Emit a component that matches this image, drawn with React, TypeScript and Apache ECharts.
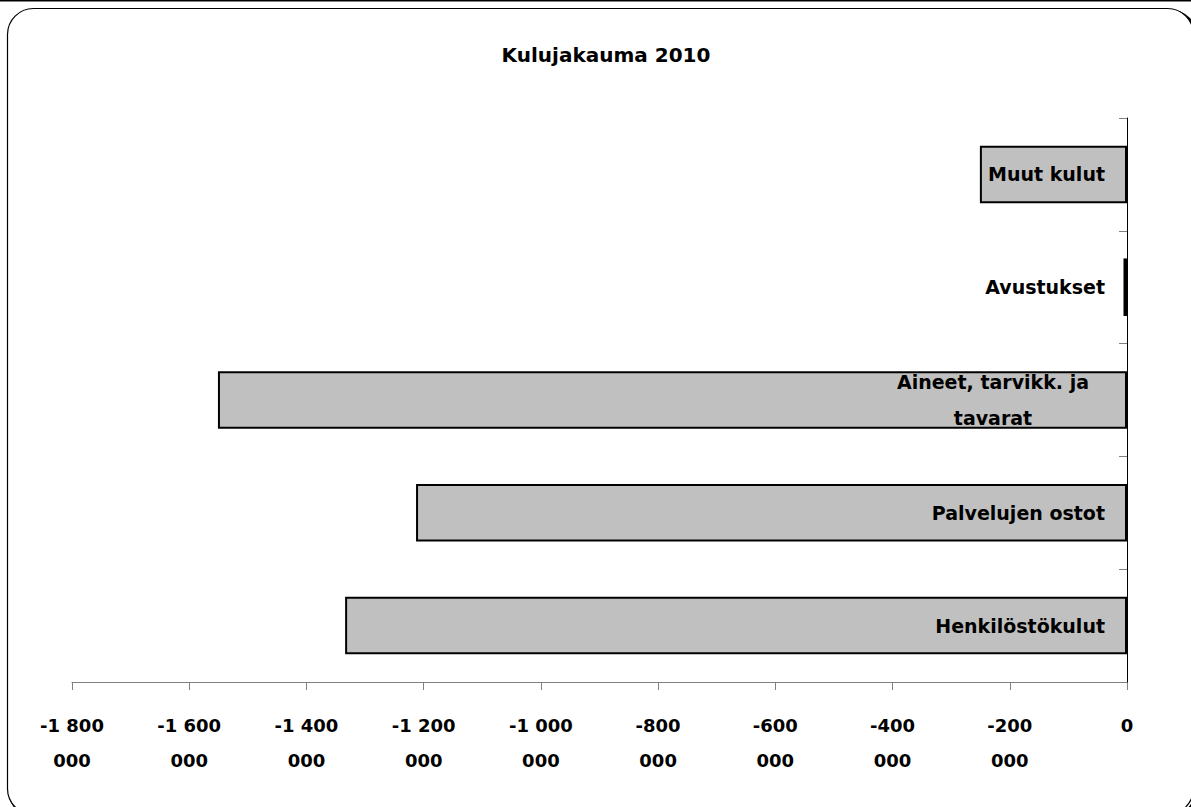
import React, { useEffect, useRef } from "react";
import * as echarts from "echarts";

const titleText = "Kulujakauma 2010";
const categories = [
  "Henkilöstökulut",
  "Palvelujen ostot",
  "Aineet, tarvikk. ja tavarat",
  "Avustukset",
  "Muut kulut",
];
const values = [-1334000, -1213000, -1551000, -6000, -251000];
const xMin = -1800000;
const xMax = 0;
const xInterval = 200000;

const FONT = "'Comic Sans MS', 'DejaVu Sans', sans-serif";

function fmtValue(v: number): string {
  if (v === 0) return "0";
  const neg = v < 0;
  const s = Math.abs(v).toString().replace(/\B(?=(\d{3})+(?!\d))/g, " ");
  const full = (neg ? "-" : "") + s;
  const i = full.lastIndexOf(" ");
  if (i < 0) return full;
  return full.slice(0, i) + "\n" + full.slice(i + 1);
}

export default function App() {
  const ref = useRef<HTMLDivElement>(null);
  useEffect(() => {
    if (!ref.current) return;
    const chart = echarts.init(ref.current, undefined, { renderer: "svg" });
    chart.setOption({
      animation: false,
      backgroundColor: "#ffffff",
      title: {
        text: titleText,
        left: 601,
        top: 40,
        textAlign: "center",
        textStyle: { fontFamily: FONT, fontWeight: "bold", fontSize: 20, color: "#000" },
      },
      graphic: [
        {
          type: "rect",
          shape: { x: 10, y: 11, width: 1186, height: 806, r: 26 },
          style: { fill: "none", stroke: "#000", lineWidth: 3 },
          z: -2,
        },
        {
          type: "rect",
          shape: { x: 7.5, y: 8.5, width: 1186, height: 806, r: 26 },
          style: { fill: "#fff", stroke: "#000", lineWidth: 1.2 },
          z: -1,
        },
        {
          type: "line",
          shape: { x1: 0, y1: 0.5, x2: 1191, y2: 0.5 },
          style: { stroke: "#000", lineWidth: 2 },
          z: -1,
        },
      ],
      grid: { left: 72, right: 64, top: 118, bottom: 125, containLabel: false },
      xAxis: {
        type: "value",
        min: xMin,
        max: xMax,
        interval: xInterval,
        splitLine: { show: false },
        axisLine: { show: true, onZero: false, lineStyle: { color: "#808080", width: 1 } },
        axisTick: { show: true, length: 8, lineStyle: { color: "#808080" } },
        axisLabel: {
          formatter: (v: number) => fmtValue(v),
          margin: 26,
          fontFamily: FONT,
          fontWeight: "bold",
          fontSize: 18,
          color: "#000",
          lineHeight: 35,
          align: "center",
        },
      },
      yAxis: {
        type: "category",
        data: categories,
        position: "right",
        axisLine: { show: true, onZero: false, lineStyle: { color: "#000", width: 1 } },
        axisTick: { show: true, inside: true, length: 8, lineStyle: { color: "#808080" } },
        axisLabel: {
          inside: true,
          margin: 22,
          color: "#000",
          formatter: (v: string) =>
            v === "Aineet, tarvikk. ja tavarat"
              ? "{c|Aineet, tarvikk. ja}\n{c|tavarat}"
              : "{n|" + v + "}",
          rich: {
            n: { fontFamily: FONT, fontWeight: "bold", fontSize: 19, color: "#000" },
            c: {
              fontFamily: FONT,
              fontWeight: "bold",
              fontSize: 19,
              color: "#000",
              width: 224,
              align: "center",
              lineHeight: 36,
            },
          },
        },
        z: 5,
      },
      series: [
        {
          type: "bar",
          data: values,
          barCategoryGap: "49%",
          itemStyle: { color: "#c0c0c0", borderColor: "#000", borderWidth: 2 },
        },
      ],
    });
    return () => chart.dispose();
  }, []);
  return (
    <div
      ref={ref}
      style={{ position: "absolute", left: 0, top: 0, width: 1191, height: 807 }}
    />
  );
}
